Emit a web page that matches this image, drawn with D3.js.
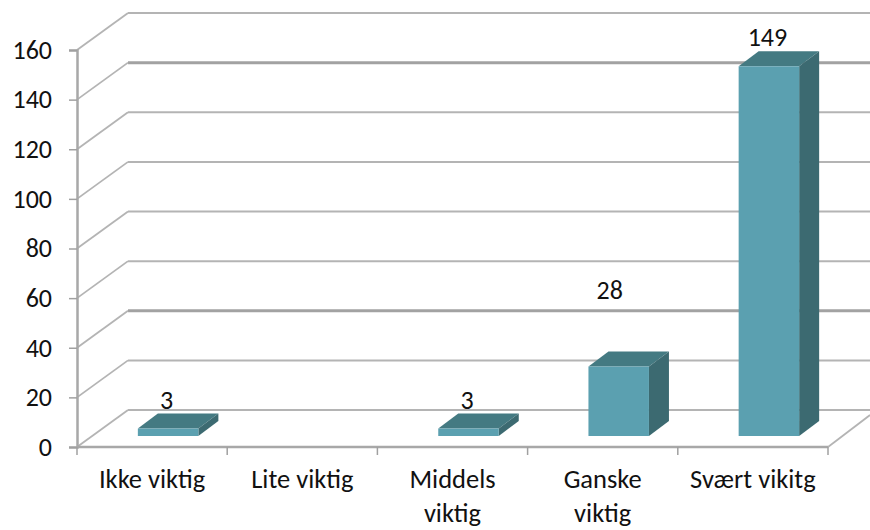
<!DOCTYPE html>
<html>

<head>
    <meta charset="utf-8">
    <script src="https://d3js.org/d3.v7.min.js"></script>
    <style>
    html, body { margin: 0; padding: 0; background: #fff; }
    svg { display: block; }
    text { font-family: Carlito, Lato, "Open Sans", sans-serif; fill: #111; }
    </style>
</head>

<body>
    <div id="my_dataviz"></div>
    <script>
    var categories = ["Ikke viktig", "Lite viktig", "Middels viktig", "Ganske viktig", "Svært vikitg"];
    var categoryLines = [["Ikke viktig"], ["Lite viktig"], ["Middels", "viktig"], ["Ganske", "viktig"], ["Svært vikitg"]];
    var values = [3, 0, 3, 28, 149];
    var yTicks = [0, 20, 40, 60, 80, 100, 120, 140, 160];

    var width = 870, height = 530;
    var depthX = 51, depthY = 37;      // wall offset
    var barDepthX = 20, barDepthY = 15;
    var gridColor = "#b4b4b4";
    var fontSize = "26px";

    var svg = d3.select("#my_dataviz")
        .append("svg")
        .attr("width", width)
        .attr("height", height);

    var x = d3.scaleBand().domain(categories).range([77, 828]);
    var y = d3.scaleLinear().domain([0, 160]).range([447, 50]);
    var barWidth = 60.5;
    var barBase = y(0) - 11;

    // back wall lines, a couple come out heavier in the original
    svg.selectAll("line.grid")
        .data(yTicks)
        .enter()
        .append("line")
        .attr("class", "grid")
        .attr("x1", x.range()[0] + depthX)
        .attr("x2", width)
        .attr("y1", (d) => y(d) - depthY)
        .attr("y2", (d) => y(d) - depthY)
        .style("stroke", (d) => (d == 40 || d == 140) ? "#a2a2a2" : gridColor)
        .style("stroke-width", (d) => (d == 40 || d == 140) ? 3 : 2);

    // side wall diagonals
    svg.selectAll("line.diag")
        .data(yTicks)
        .enter()
        .append("line")
        .attr("class", "diag")
        .attr("x1", x.range()[0])
        .attr("x2", x.range()[0] + depthX)
        .attr("y1", (d) => y(d))
        .attr("y2", (d) => y(d) - depthY)
        .style("stroke", gridColor)
        .style("stroke-width", 1.8);

    // floor edge on the right
    svg.append("line")
        .attr("x1", x.range()[1])
        .attr("x2", x.range()[1] + 42)
        .attr("y1", y(0))
        .attr("y2", y(0) - 32)
        .style("stroke", gridColor)
        .style("stroke-width", 1.8);

    var yAxis = d3.axisLeft(y).tickValues(yTicks).tickSize(8).tickPadding(17);
    var yG = svg.append("g").attr("transform", "translate(" + x.range()[0] + ",0)").call(yAxis);
    yG.select(".domain").style("stroke", "#a8a8a8").style("stroke-width", 2.5);
    yG.selectAll(".tick line").style("stroke", "#a0a0a0").style("stroke-width", 1.5);
    yG.selectAll("text").style("font-size", fontSize).style("fill", "#111");

    // bottom axis, ticks sit between the categories
    var edges = categories.map((d) => x(d)).concat(x.range()[1]);
    svg.append("line")
        .attr("x1", x.range()[0])
        .attr("x2", x.range()[1])
        .attr("y1", y(0))
        .attr("y2", y(0))
        .style("stroke", "#a8a8a8")
        .style("stroke-width", 2.5);
    svg.selectAll("line.xtick")
        .data(edges)
        .enter()
        .append("line")
        .attr("class", "xtick")
        .attr("x1", (d) => d)
        .attr("x2", (d) => d)
        .attr("y1", y(0))
        .attr("y2", y(0) + 8)
        .style("stroke", "#a0a0a0")
        .style("stroke-width", 1.5);

    var xLabels = svg.selectAll("text.cat")
        .data(categories)
        .enter()
        .append("text")
        .attr("class", "cat")
        .attr("text-anchor", "middle")
        .style("font-size", "26.5px");
    xLabels.selectAll("tspan")
        .data((d, i) => categoryLines[i].map((line) => ({ cat: d, line: line })))
        .enter()
        .append("tspan")
        .attr("x", (d) => x(d.cat) + x.bandwidth() / 2)
        .attr("y", (d, i) => 488 + i * 34)
        .text((d) => d.line);

    var barData = categories.map((c, i) => ({ cat: c, val: values[i] })).filter((d) => d.val > 0);
    var barLeft = (d) => x(d.cat) + x.bandwidth() / 2 + 16 - barWidth / 2;
    var barTop = (d) => barBase - (y(0) - y(d.val));

    var bars = svg.selectAll("g.bar")
        .data(barData)
        .enter()
        .append("g")
        .attr("class", "bar");

    bars.append("path")
        .attr("d", (d) => {
            var l = barLeft(d), t = barTop(d);
            return "M" + l + "," + t + "L" + (l + barDepthX) + "," + (t - barDepthY) +
                "L" + (l + barWidth + barDepthX) + "," + (t - barDepthY) + "L" + (l + barWidth) + "," + t + "Z";
        })
        .style("fill", "#447a82");

    bars.append("path")
        .attr("d", (d) => {
            var r = barLeft(d) + barWidth, t = barTop(d);
            return "M" + r + "," + t + "L" + (r + barDepthX) + "," + (t - barDepthY) +
                "L" + (r + barDepthX) + "," + (barBase - barDepthY) + "L" + r + "," + barBase + "Z";
        })
        .style("fill", "#3c6a71");

    bars.append("rect")
        .attr("x", barLeft)
        .attr("y", barTop)
        .attr("width", barWidth)
        .attr("height", (d) => barBase - barTop(d))
        .style("fill", "#5ba0b0");

    // the 28 label was dragged up and left in the original
    svg.selectAll("text.val")
        .data(barData)
        .enter()
        .append("text")
        .attr("class", "val")
        .attr("text-anchor", "middle")
        .attr("x", (d) => barLeft(d) + barWidth / 2 + (d.val == 28 ? -9 : -1.5))
        .attr("y", (d) => barTop(d) - (d.val == 28 ? 68 : 20))
        .style("font-size", fontSize)
        .text((d) => d.val);
    </script>
</body>

</html>
